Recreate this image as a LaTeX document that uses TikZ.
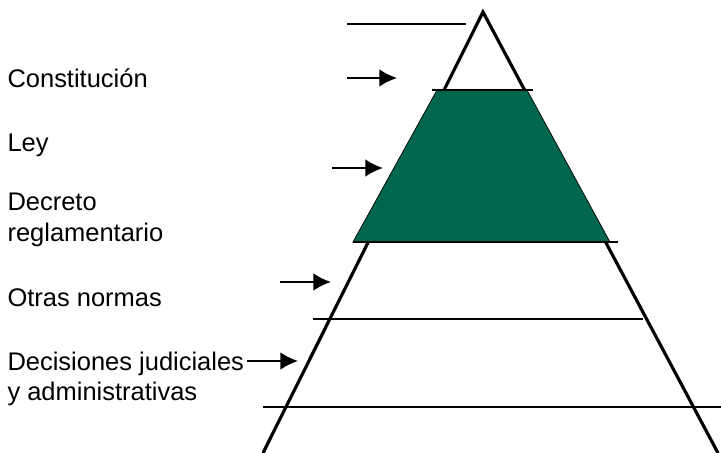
\documentclass[tikz,border=0pt]{standalone}
\usepackage{fontspec}
\setmainfont{Liberation Sans}
\usepackage{tikz}
\usetikzlibrary{arrows.meta, positioning}
\usepackage{xcolor}
\definecolor{verdeley}{RGB}{0,102,77}

\begin{document}
\begin{tikzpicture}[>={Latex[length=10pt,width=10pt]}, semithick,
    etiqueta/.style={anchor=west, align=left, inner sep=0pt,
      font=\fontsize{14.5}{17.5}\selectfont},
    nivel/.style={line width=0.8pt},
    lado/.style={line width=1.8pt},
    flecha/.style={->, line width=1.2pt}]
      \useasboundingbox (0,0) rectangle (14.42,9.06);

      % piramide
      \coordinate (cima) at (9.66,8.82);
      \coordinate (baseizq) at (5.26,0);
      \coordinate (baseder) at (14.36,0);
      \draw[lado] (baseizq) -- (cima) -- (baseder);

      % ley
      \draw[thin, fill=verdeley] (8.74,7.26) -- (10.54,7.26) -- (12.20,4.22) -- (7.06,4.22) -- cycle;

      % niveles
      \draw[nivel] (6.94,8.58) -- (9.32,8.58);
      \draw[nivel] (8.64,7.26) -- (10.66,7.26);
      \draw[nivel] (7.06,4.22) -- (12.36,4.22);
      \draw[nivel] (6.26,2.68) -- (12.86,2.68);
      \draw[nivel] (5.26,0.92) -- (14.42,0.92);

      % textos
      \node[etiqueta] (const) at (0.14,7.50) {Constitución};
      \node[etiqueta] (ley) at (0.14,6.16) {Ley};
      \node[etiqueta] (decreto) at (0.14,4.66) {Decreto\\reglamentario};
      \node[etiqueta] (otras) at (0.14,3.10) {Otras normas};
      \node[etiqueta] (decis) at (0.14,1.48) {Decisiones judiciales\\y administrativas};

      % flechas
      \coordinate (f1a) at (6.94,7.50);  \coordinate (f1b) at (7.94,7.50);
      \coordinate (f2a) at (6.64,5.70);  \coordinate (f2b) at (7.66,5.70);
      \coordinate (f3a) at (5.60,3.42);  \coordinate (f3b) at (6.62,3.42);
      \coordinate (f4a) at (4.94,1.84);  \coordinate (f4b) at (5.96,1.84);
      \draw[flecha] (f1a) -- (f1b);
      \draw[flecha] (f2a) -- (f2b);
      \draw[flecha] (f3a) -- (f3b);
      \draw[flecha] (f4a) -- (f4b);
    \end{tikzpicture}
\end{document}
